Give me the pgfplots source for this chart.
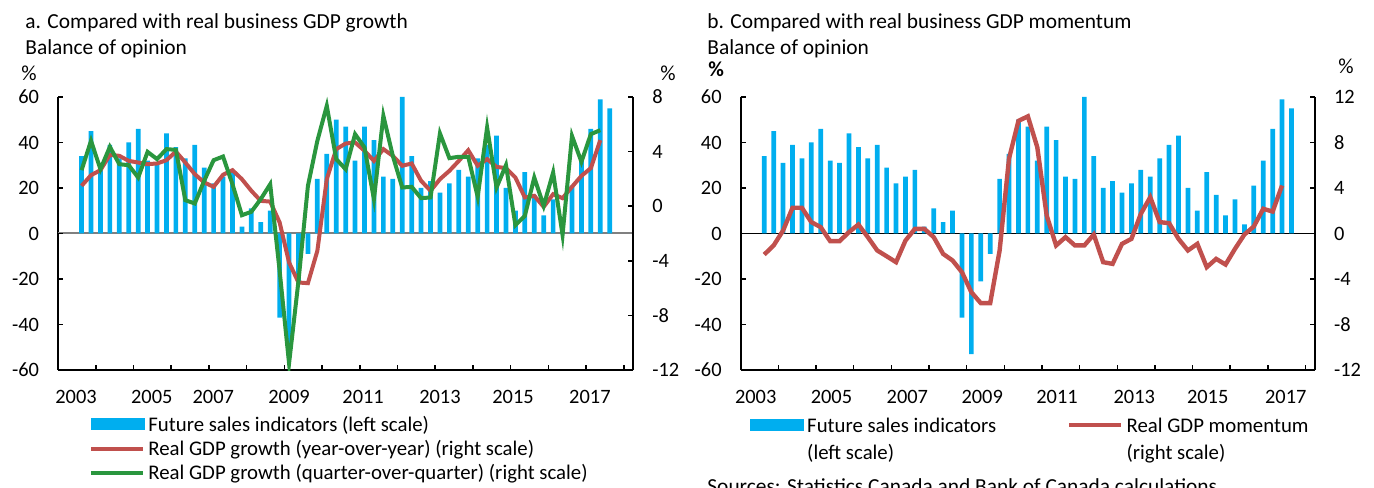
\documentclass[border=0pt]{standalone}
\usepackage{fontspec}
\setmainfont{Carlito}
\usepackage{pgfplots}
\usepackage{pgfplotstable}
\pgfplotsset{compat=1.18}
\definecolor{barblue}{RGB}{0,174,239}
\definecolor{gdpred}{RGB}{192,80,77}
\definecolor{gdpgreen}{RGB}{42,150,62}
\definecolor{zerogray}{RGB}{128,128,128}

\pgfplotstableread{
x fsi
2 34
3 45
4 31
5 39
6 33
7 40
8 46
9 32
10 31
11 44
12 38
13 33
14 39
15 29
16 22
17 25
18 28
19 3
20 11
21 5
22 10
23 -37
24 -53
25 -21
26 -9
27 24
28 35
29 50
30 47
31 32
32 47
33 41
34 25
35 24
36 60
37 34
38 20
39 23
40 18
41 22
42 28
43 25
44 33
45 39
46 43
47 20
48 10
49 27
50 17
51 8
52 15
53 4
54 21
55 32
56 46
57 59
58 55
}\fsitab

\pgfplotstableread{
x yoy qoq mom
2 1.49 2.64 -1.85
3 2.27 4.79 -1.05
4 2.64 2.71 0.26
5 3.76 4.35 2.26
6 3.69 3.08 2.26
7 3.32 3.00 1.00
8 3.20 2.10 0.56
9 3.08 3.98 -0.67
10 3.13 3.45 -0.67
11 3.37 4.18 0.12
12 4.00 4.13 0.79
13 3.20 0.44 -0.32
14 2.35 0.20 -1.49
15 1.74 1.86 -2.00
16 1.42 3.37 -2.52
17 2.30 3.64 -0.62
18 2.64 1.61 0.41
19 1.98 -0.66 0.41
20 1.13 -0.41 -0.32
21 0.39 0.52 -1.79
22 0.34 1.61 -2.37
23 -1.19 -4.73 -3.40
24 -4.12 -11.52 -5.16
25 -5.59 -5.47 -6.12
26 -5.64 1.49 -6.12
27 -3.27 4.79 -1.50
28 1.98 7.35 6.60
29 4.18 3.45 9.90
30 4.59 2.71 10.30
31 4.67 5.28 7.59
32 4.06 4.30 1.58
33 3.32 0.52 -1.05
34 4.18 6.62 -0.32
35 3.69 3.69 -1.05
36 2.96 1.37 -1.05
37 3.13 1.42 -0.09
38 1.86 0.59 -2.52
39 1.13 0.64 -2.67
40 1.98 5.33 -0.91
41 2.59 3.52 -0.47
42 3.32 3.62 1.73
43 4.10 3.62 3.19
44 2.96 0.69 1.00
45 3.45 5.77 0.91
46 2.88 1.37 -0.47
47 2.79 3.01 -1.49
48 2.10 -1.39 -0.91
49 0.64 -0.71 -2.96
50 0.76 2.10 -2.23
51 -0.05 0.03 -2.73
52 0.88 2.47 -1.35
53 0.59 -2.10 -0.09
54 1.42 5.15 0.62
55 2.22 3.25 2.17
56 2.79 5.28 1.93
57 4.84 5.57 4.22
}\gdptab

\pgfplotsset{
  base/.style={
    scale only axis, height=136.5pt,
    xmin=-0.5, xmax=60.5,
    tick align=inside, major tick length=2.5pt,
    axis line style={line width=0.8pt, black},
    every tick/.style={line width=0.8pt, black},
    /pgf/number format/assume math mode=true,
    tick label style={font=\fontsize{10.2}{12}\selectfont},
    yticklabel shift=6pt,
  },
  leftbase/.style={
    base, ymin=-60, ymax=60, ytick={-60,-40,...,60},
    axis x line*=bottom, axis y line*=left,
    xtick={3.5,7.5,...,59.5}, xticklabels={},
    xticklabel shift=6.5pt,
    extra x tick style={major tick length=0pt},
    extra y ticks={0}, extra y tick labels={},
  },
  rightbase/.style={
    base, axis y line*=right, axis x line=none,
    legend cell align=left,
    legend image code/.code={\draw[##1] (0pt,0pt) -- (26pt,0pt);},
  },
}

\begin{document}
\begin{tikzpicture}[font=\fontsize{10.7}{12.5}\selectfont]
\useasboundingbox (0pt,0pt) rectangle (687pt,243.5pt);
\clip (0pt,0pt) rectangle (687pt,243.5pt);

% ---------- Panel a ----------
\node[anchor=base west, inner sep=0pt] at (12.5pt,229pt) {a. Compared with real business GDP growth};
\node[anchor=base west, inner sep=0pt] at (12.5pt,216pt) {Balance of opinion};
\node[anchor=base west, inner sep=0pt] at (10.5pt,203pt) {\%};
\node[anchor=base west, inner sep=0pt] at (330pt,203pt) {\%};

\begin{axis}[leftbase, at={(29pt,58.5pt)}, anchor=south west, width=287.65pt,
  extra x ticks={1.41,9.44,15.97,24.0,31.85,40.0,47.75,55.9},
  extra x tick labels={2003,2005,2007,2009,2011,2013,2015,2017},
  extra y tick style={grid=major, major grid style={zerogray, line width=1pt}},
]
\addplot[ybar, bar width=0.5, fill=barblue, draw=none] table[x=x,y=fsi]{\fsitab};
\end{axis}

\begin{axis}[rightbase, at={(29pt,58.5pt)}, anchor=south west, width=287.65pt,
  ymin=-12, ymax=8, ytick={-12,-8,...,8},
  legend style={at={(0.0539,-0.1612)}, anchor=north west, draw=none, fill=none,
    inner sep=0pt, row sep=2.25pt, nodes={inner xsep=1.5pt, inner ysep=0pt},
    font=\fontsize{10.4}{12}\selectfont},
]
\addlegendimage{legend image code/.code={\fill[barblue] (0pt,-2.75pt) rectangle (26.5pt,2.75pt);}}
\addlegendentry{\strut Future sales indicators (left scale)}
\addplot[gdpred, line width=2pt] table[x=x,y=yoy]{\gdptab};
\addlegendentry{\strut Real GDP growth (year-over-year) (right scale)}
\addplot[gdpgreen, line width=2pt] table[x=x,y=qoq]{\gdptab};
\addlegendentry{\strut Real GDP growth (quarter-over-quarter) (right scale)}
\end{axis}

% ---------- Panel b ----------
\node[anchor=base west, inner sep=0pt] at (353.5pt,229pt) {b. Compared with real business GDP momentum};
\node[anchor=base west, inner sep=0pt] at (353.5pt,216pt) {Balance of opinion};
\node[anchor=base west, inner sep=0pt] at (354pt,205pt) {\textbf{\%}};
\node[anchor=base west, inner sep=0pt] at (669pt,206.5pt) {\%};

\begin{axis}[leftbase, at={(370.35pt,58.5pt)}, anchor=south west, width=287.15pt,
  extra x ticks={1.09,9.14,17.2,25.15,33.1,41.3,49.1,57.4},
  extra x tick labels={2003,2005,2007,2009,2011,2013,2015,2017},
  extra y tick style={grid=major, major grid style={black, line width=0.9pt}},
]
\addplot[ybar, bar width=0.5, fill=barblue, draw=none] table[x=x,y=fsi]{\fsitab};
\end{axis}

\begin{axis}[rightbase, at={(370.35pt,58.5pt)}, anchor=south west, width=287.15pt,
  ymin=-12, ymax=12, ytick={-12,-8,...,12},
  legend columns=2,
  legend style={at={(0.0162,-0.1648)}, anchor=north west, draw=none, fill=none,
    inner sep=0pt, row sep=4pt, nodes={inner xsep=1.5pt, inner ysep=0pt},
    /tikz/every even column/.append style={column sep=34pt},
    font=\fontsize{10.4}{12}\selectfont},
]
\addlegendimage{legend image code/.code={\fill[barblue] (0pt,-2.75pt) rectangle (26.5pt,2.75pt);}}
\addlegendentry{\strut Future sales indicators}
\addplot[gdpred, line width=2.2pt] table[x=x,y=mom]{\gdptab};
\addlegendentry{\strut Real GDP momentum}
\addlegendimage{empty legend}
\addlegendentry{\strut (left scale)}
\addlegendimage{empty legend}
\addlegendentry{\strut (right scale)}
\end{axis}

\node[anchor=base west, inner sep=0pt] at (353.5pt,-3pt) {Sources: Statistics Canada and Bank of Canada calculations};
\end{tikzpicture}
\end{document}
